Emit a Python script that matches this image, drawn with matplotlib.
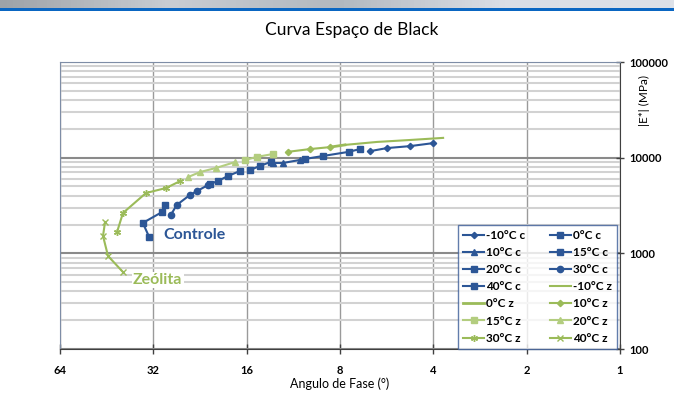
import matplotlib.pyplot as plt
import numpy as np
from matplotlib.ticker import FixedLocator, NullLocator, LogLocator, NullFormatter

plt.rcParams['font.family'] = ['Lato', 'DejaVu Sans']

# Espaco de Black: angulo de fase (graus) x modulo dinamico |E*| (MPa)
# Controle
ang_m10c = [4.0, 4.76, 5.64, 6.4]
mod_m10c = [14200, 13200, 12600, 11700]
ang_0c = [6.9, 7.5, 9.1, 10.4]
mod_0c = [12300, 11500, 10400, 9680]
ang_10c = [10.8, 12.2, 13.2]
mod_10c = [9460, 8800, 8800]
ang_15c = [13.4, 14.5, 15.6]
mod_15c = [9020, 8190, 7430]
ang_20c = [16.8, 18.4, 19.8, 21.0]
mod_20c = [7260, 6430, 5700, 5310]
ang_30c = [21.3, 23.1, 24.4, 26.9, 28.1]
mod_30c = [5180, 4490, 4070, 3200, 2520]
ang_40c = [29.3, 30.0, 34.6, 33.0]
mod_40c = [3200, 2700, 2080, 1480]

# Zeolita
ang_m10z = [3.72, 4.76, 6.08, 7.71]
mod_m10z = [16100, 15300, 14600, 13600]
ang_0z = [7.71, 8.6]
mod_0z = [13600, 12900]
ang_10z = [8.6, 10.0, 11.8]
mod_10z = [12900, 12300, 11500]
ang_15z = [13.2, 14.8, 16.2]
mod_15z = [10900, 10200, 9460]
ang_20z = [17.4, 20.1, 22.6, 24.7]
mod_20z = [9020, 7800, 7080, 6280]
ang_30z = [26.2, 29.1, 33.8, 40.1, 41.9]
mod_30z = [5700, 4820, 4270, 2640, 1670]
ang_40z = [45.8, 46.5, 44.8, 40.1]
mod_40z = [2130, 1520, 938, 638]

x_ticks = [64, 32, 16, 8, 4, 2, 1]
y_ticks = [100, 1000, 10000, 100000]

azul = "#2C5696"
verde = "#9BBB59"
verde_claro = "#B3CD7F"

fig = plt.figure(figsize=(6.74, 3.97), dpi=100)

# faixa do cabecalho
topo = fig.add_axes([0, 1 - 8 / 397, 1, 8 / 397])
grad = np.linspace(0, 1, 200)[None, :]
topo.imshow(grad, aspect="auto", cmap=plt.matplotlib.colors.LinearSegmentedColormap.from_list(
    "cab", ["#9EA3A8", "#C9CDD3", "#B2B8BF", "#DADEE6", "#DDE1E8"]), extent=[0, 1, 0, 1])
topo.axis("off")
fig.add_artist(plt.Rectangle((0, 1 - 11 / 397), 1, 3 / 397, transform=fig.transFigure,
                             color="#0A66C2", lw=0))

ax = fig.add_axes([60 / 674, 1 - 349 / 397, 560 / 674, 287 / 397])

series = [
    (ang_m10c, mod_m10c, "-10°C c", dict(color=azul, marker="D", ms=3.2)),
    (ang_0c, mod_0c, "0°C c", dict(color=azul, marker="s", ms=5)),
    (ang_10c, mod_10c, "10°C c", dict(color=azul, marker="^", ms=4.5)),
    (ang_15c, mod_15c, "15°C c", dict(color=azul, marker="s", ms=4.5)),
    (ang_20c, mod_20c, "20°C c", dict(color=azul, marker="s", ms=5)),
    (ang_30c, mod_30c, "30°C c", dict(color=azul, marker="o", ms=4.5)),
    (ang_40c, mod_40c, "40°C c", dict(color=azul, marker="s", ms=5)),
    (ang_m10z, mod_m10z, "-10°C z", dict(color=verde, marker="None")),
    (ang_0z, mod_0z, "0°C z", dict(color=verde, marker="None", lw=2)),
    (ang_10z, mod_10z, "10°C z", dict(color=verde, marker="D", ms=3.2)),
    (ang_15z, mod_15z, "15°C z", dict(color=verde_claro, marker="s", ms=5)),
    (ang_20z, mod_20z, "20°C z", dict(color=verde_claro, marker="^", ms=4.5)),
    (ang_30z, mod_30z, "30°C z", dict(color=verde, marker=(6, 2, 0), ms=5)),
    (ang_40z, mod_40z, "40°C z", dict(color=verde, marker="x", ms=4)),
]

handles = []
for xs, ys, nome, st in series:
    st.setdefault("lw", 1.5)
    h, = ax.plot(xs, ys, label=nome, zorder=3, **st)
    handles.append(h)

ax.set_xscale("log", base=2)
ax.set_yscale("log")
ax.set_xlim(64, 1)
ax.set_ylim(100, 100000)

ax.xaxis.set_major_locator(FixedLocator(x_ticks))
ax.xaxis.set_minor_locator(NullLocator())
ax.set_xticklabels([str(v) for v in x_ticks])
ax.yaxis.set_major_locator(FixedLocator(y_ticks))
ax.yaxis.set_minor_locator(LogLocator(base=10, subs=range(2, 10)))
ax.yaxis.set_minor_formatter(NullFormatter())
ax.set_yticklabels([str(v) for v in y_ticks])
ax.yaxis.tick_right()

ax.tick_params(axis="x", direction="inout", length=7, width=1, color="#404040",
               labelsize=8, pad=8)
ax.tick_params(axis="y", which="major", direction="inout", length=6, width=1,
               color="#404040", labelsize=8, pad=4)
ax.tick_params(axis="y", which="minor", length=0)
for lab in ax.get_xticklabels() + ax.get_yticklabels():
    lab.set_fontweight("bold")

ax.grid(True, axis="x", color="#9A9A9A", lw=1)
ax.grid(True, axis="y", which="major", color="#8A8A8A", lw=1.5)
ax.grid(True, axis="y", which="minor", color="#D2D2D2", lw=1.5)
ax.set_axisbelow(True)

for lado in ["top", "left"]:
    ax.spines[lado].set_color("#7E8DA6")
for lado in ["bottom", "right"]:
    ax.spines[lado].set_color("#404040")

ax.set_xlabel("Angulo de Fase (°)", fontsize=9, labelpad=1)
ax.set_ylabel("|E*| (MPa)", fontsize=8.5)
ax.yaxis.set_label_coords(1.054, 0.865)
fig.text(352 / 674, 1 - 30 / 397, "Curva Espaço de Black", ha="center", va="center",
         fontsize=12.5)

ax.text(29.8, 1556, "Controle", color=azul, fontsize=11.5, fontweight="bold",
        ha="left", va="center", zorder=4,
        bbox=dict(facecolor="white", edgecolor="none", pad=1))
ax.text(37.2, 526, "Zeólita", color=verde, fontsize=11.5, fontweight="bold",
        ha="left", va="center", zorder=4,
        bbox=dict(facecolor="white", edgecolor="none", pad=1))

ordem = [0, 2, 4, 6, 8, 10, 12, 1, 3, 5, 7, 9, 11, 13]
leg = ax.legend([handles[i] for i in ordem], [handles[i].get_label() for i in ordem],
                ncol=2, loc="lower left", bbox_to_anchor=(0.711, 0.0, 0.284, 0.439),
                mode="expand", fontsize=8.5, frameon=True, fancybox=False,
                borderpad=0.45, labelspacing=0.52, handlelength=1.7, handletextpad=0.2,
                columnspacing=0.6, borderaxespad=0)
leg.get_frame().set_edgecolor("#3B5C98")
leg.get_frame().set_linewidth(1)
for t in leg.get_texts():
    t.set_fontweight("bold")

fig.savefig("out.png", dpi=100)
